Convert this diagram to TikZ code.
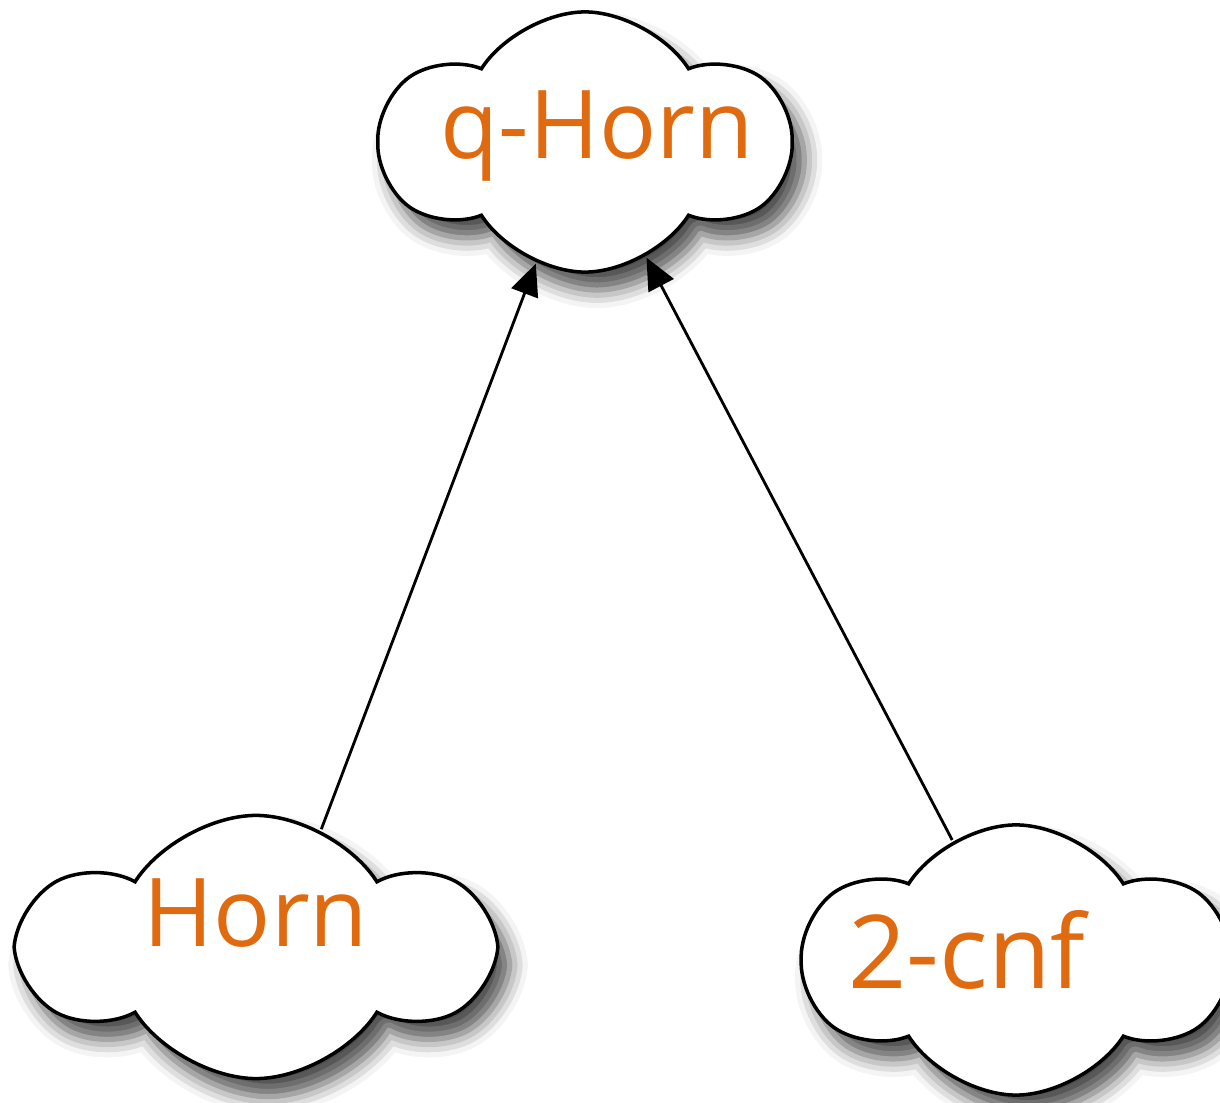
\documentclass[tikz,border=0pt]{standalone}
\usepackage{fontspec}
\setmainfont{Open Sans}
\usepackage{xcolor}
\usetikzlibrary{shapes.symbols,shadows.blur,arrows.meta,positioning}
\definecolor{hornorange}{RGB}{224,106,16}

\begin{document}
\begin{tikzpicture}[->, >={Triangle[length=9pt,width=8pt]}, line width=0.8pt, x=0.01cm, y=-0.01cm]
	\tikzstyle{puff}=[cloud, cloud puffs=6, cloud puff arc=115, shape border rotate=30, draw=black, line width=1pt, fill=white, inner sep=0pt,
		blur shadow={shadow xshift=1.2mm, shadow yshift=-1.8mm, shadow blur radius=1.8mm, shadow opacity=70}]
	\tikzstyle{word}=[text=hornorange, anchor=base, inner sep=0pt]
	\useasboundingbox (0,0) rectangle (1220,1103);
	% the three clouds
	\node[puff, minimum width=4.05cm, minimum height=2.6cm]  (Q) at (585,142) {};
	\node[puff, minimum width=4.6cm, minimum height=2.63cm] (H) at (256,947) {};
	\node[puff, minimum width=4.2cm, minimum height=2.7cm]  (T) at (1016,960) {};
	% their labels
	\node[word, font=\fontsize{27pt}{32pt}\selectfont] (Qt) at (597,158) {q-Horn};
	\node[word, font=\fontsize{27pt}{32pt}\selectfont] (Ht) at (256,946) {Horn};
	\node[word, font=\fontsize{29pt}{35pt}\selectfont] (Tt) at (967,988) {2-cnf};
	\path
	(H.61) edge (Q.248)
	(T.118) edge (Q.298);
\end{tikzpicture}
\end{document}
